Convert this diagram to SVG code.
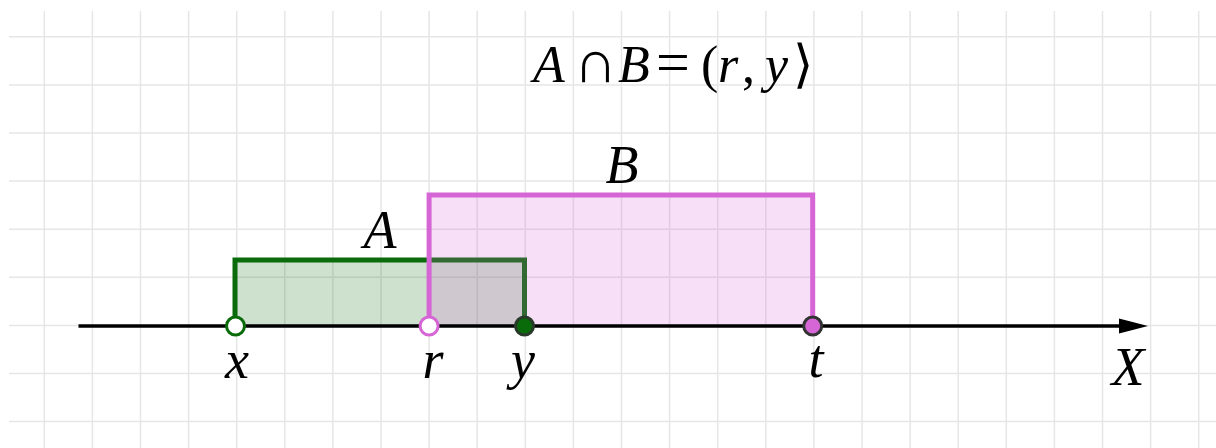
<svg xmlns="http://www.w3.org/2000/svg" width="1216" height="448" viewBox="0 0 1216 448">
<style>
.grid{stroke:#e6e6e6;stroke-width:1.5;fill:none}
.lbl{font-family:'Liberation Serif','Times New Roman',serif;font-style:italic;font-size:54px;fill:#000;text-anchor:middle}
.up{font-style:normal}
.pt{stroke-width:3}
</style>
<rect width="1216" height="448" fill="#fff"/>
<g id="grid">
<path class="grid" d="M44.3 11V448M92.4 11V448M140.5 11V448M188.6 11V448M236.7 11V448M284.8 11V448M332.9 11V448M381 11V448M429.1 11V448M477.2 11V448M525.3 11V448M573.4 11V448M621.5 11V448M669.6 11V448M717.7 11V448M765.8 11V448M813.9 11V448M862 11V448M910.1 11V448M958.2 11V448M1006.3 11V448M1054.4 11V448M1102.5 11V448M1150.6 11V448M1198.7 11V448"/>
<path class="grid" d="M9 36.8H1216M9 84.9H1216M9 133H1216M9 181.1H1216M9 229.2H1216M9 277.3H1216M9 325.4H1216M9 373.5H1216M9 421.6H1216"/>
</g>
<g id="intervalA">
<path d="M235 326V260H524.5V326Z" fill="rgb(10,107,10)" fill-opacity="0.2" stroke="none"/>
<path d="M235 326V260H524.5V326" fill="none" stroke="#0a6b0a" stroke-width="5"/>
</g>
<g id="intervalB">
<path d="M429.1 326V195H812.7V326Z" fill="rgb(214,102,214)" fill-opacity="0.2" stroke="none"/>
<path d="M429.1 326V195H812.7V326" fill="none" stroke="#d666d6" stroke-width="5"/>
</g>
<g id="connectors">
<line x1="78.5" y1="326" x2="1124" y2="326" stroke="#000" stroke-width="3.5"/>
<polygon points="1148,326 1119,318.5 1119,333.5" fill="#000"/>
</g>
<g id="point-x"><circle class="pt" cx="235.5" cy="326" r="9" fill="#fff" stroke="#0a6b0a"/></g>
<g id="point-r"><circle class="pt" cx="429.1" cy="326" r="9" fill="#fff" stroke="#d666d6"/></g>
<g id="point-y"><circle class="pt" cx="524.5" cy="326" r="9" fill="#0a6b0a" stroke="#2a3a2a"/></g>
<g id="point-t"><circle class="pt" cx="812.7" cy="326" r="9" fill="#d666d6" stroke="#333"/></g>
<g id="labels">
<text class="lbl" x="237" y="378">x</text>
<text class="lbl" x="433" y="378">r</text>
<text class="lbl" x="523" y="378">y</text>
<text class="lbl" x="816" y="377">t</text>
<text class="lbl" x="1128" y="385">X</text>
<text class="lbl" x="380" y="248">A</text>
<text class="lbl" x="622" y="183">B</text>
</g>
<g id="formula">
<text class="lbl" y="82" style="font-size:52px;text-anchor:start"><tspan x="533">A</tspan><tspan class="up" x="574" style="font-size:60px">∩</tspan><tspan x="618">B</tspan><tspan class="up" x="656" style="font-size:60px">=</tspan><tspan class="up" x="701">(</tspan><tspan x="718">r</tspan><tspan class="up" x="742">,</tspan><tspan x="765">y</tspan><tspan class="up" x="793">⟩</tspan></text>
</g>
</svg>
